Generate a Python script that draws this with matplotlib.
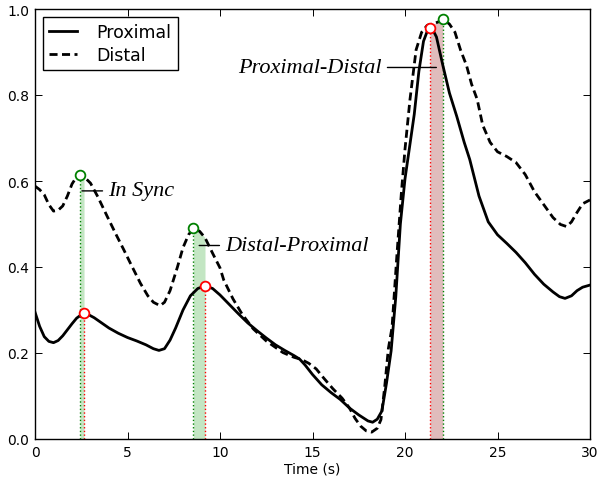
import matplotlib
matplotlib.use("Agg")
import matplotlib.pyplot as plt
import numpy as np

# ---- data ----
prox_t = [0.0, 0.25, 0.5, 0.75, 1.0, 1.25, 1.5, 1.75, 2.0, 2.25, 2.5, 2.65, 2.9, 3.2, 3.6,
          4.0, 4.5, 5.0, 5.5, 6.0, 6.4, 6.7, 7.0, 7.3, 7.6, 8.0, 8.4, 8.8, 9.19, 9.6,
          10.0, 10.5, 11.0, 11.5, 12.0, 12.5, 13.0, 13.5, 14.0, 14.3, 14.6, 15.0, 15.5,
          16.0, 16.5, 17.0, 17.5, 18.0, 18.25, 18.5, 18.75, 19.0, 19.25, 19.5, 19.75,
          20.0, 20.25, 20.5, 20.75, 21.0, 21.2, 21.35, 21.5, 21.7, 22.04, 22.4, 22.8, 23.2,
          23.5, 24.0, 24.5, 25.0, 25.5, 26.0, 26.5, 27.0, 27.5, 28.0, 28.35, 28.65,
          29.0, 29.3, 29.6, 30.0]
prox_v = [0.295, 0.262, 0.238, 0.227, 0.224, 0.229, 0.240, 0.254, 0.268, 0.281, 0.289, 0.292,
          0.289, 0.282, 0.270, 0.258, 0.246, 0.236, 0.228, 0.219, 0.210, 0.206, 0.210, 0.230,
          0.258, 0.300, 0.333, 0.350, 0.356, 0.350, 0.335, 0.313, 0.291, 0.270, 0.252, 0.235,
          0.219, 0.206, 0.194, 0.186, 0.172, 0.150, 0.126, 0.108, 0.092, 0.072, 0.056, 0.042,
          0.039, 0.046, 0.065, 0.130, 0.205, 0.330, 0.500, 0.605, 0.680, 0.755, 0.855, 0.925,
          0.948, 0.956, 0.952, 0.935, 0.870, 0.805, 0.750, 0.690, 0.650, 0.565, 0.505, 0.475,
          0.455, 0.434, 0.410, 0.383, 0.360, 0.342, 0.331, 0.327, 0.333, 0.345, 0.353, 0.358]

dist_t = [0.0, 0.25, 0.5, 0.75, 1.0, 1.25, 1.5, 1.75, 2.0, 2.25, 2.43, 2.65, 3.0, 3.4, 3.9,
          4.4, 4.8, 5.2, 5.7, 6.1, 6.4, 6.76, 7.0, 7.3, 7.7, 8.0, 8.3, 8.56, 8.9, 9.19, 9.6,
          10.0, 10.2, 10.7, 11.2, 11.8, 12.5, 13.0, 13.4, 14.0, 14.4, 14.8, 15.2, 15.6, 16.1,
          16.6, 17.0, 17.3, 17.6, 17.9, 18.2, 18.5, 18.7, 18.9, 19.1, 19.3, 19.55, 19.8, 20.0,
          20.27, 20.6, 20.9, 21.2, 21.35, 21.5, 21.8, 22.04, 22.4, 22.7, 23.0, 23.33, 23.6,
          23.9, 24.2, 24.6, 25.0, 25.5, 26.0, 26.5, 27.0, 27.5, 28.0, 28.4, 28.74, 29.0, 29.3,
          29.6, 30.0]
dist_v = [0.588, 0.580, 0.568, 0.545, 0.530, 0.532, 0.542, 0.565, 0.593, 0.610, 0.615, 0.610,
          0.595, 0.563, 0.518, 0.474, 0.440, 0.405, 0.362, 0.333, 0.318, 0.310, 0.318, 0.345,
          0.400, 0.445, 0.475, 0.490, 0.483, 0.468, 0.432, 0.398, 0.370, 0.326, 0.290, 0.256,
          0.228, 0.213, 0.201, 0.190, 0.185, 0.176, 0.163, 0.142, 0.117, 0.095, 0.072, 0.048,
          0.030, 0.019, 0.016, 0.025, 0.045, 0.120, 0.210, 0.260, 0.420, 0.570, 0.674, 0.790,
          0.905, 0.946, 0.962, 0.964, 0.965, 0.970, 0.977, 0.965, 0.946, 0.905, 0.868, 0.825,
          0.790, 0.730, 0.690, 0.668, 0.657, 0.643, 0.615, 0.575, 0.545, 0.515, 0.499, 0.494,
          0.505, 0.527, 0.547, 0.556]

# events: (label, distal peak time, proximal peak time)
event_labels = ["In Sync", "Distal-Proximal", "Proximal-Distal"]
distal_peak_t = [2.43, 8.56, 22.04]
prox_peak_t = [2.65, 9.19, 21.35]
event_colors = ["#c3e6c3", "#c3e6c3", "#e0bcbc"]
label_pos = [(3.95, 0.577, "left"), (10.27, 0.45, "left"), (18.75, 0.864, "right")]

x_ticks = [0, 5, 10, 15, 20, 25, 30]
y_ticks = [0.0, 0.2, 0.4, 0.6, 0.8, 1.0]

# ---- plot ----
prox_t = np.array(prox_t); prox_v = np.array(prox_v)
dist_t = np.array(dist_t); dist_v = np.array(dist_v)

fig = plt.figure(figsize=(5.98, 4.85), dpi=100)
ax = fig.add_axes([35/598, 1-440/485, 555/598, 430/485])

for lab, td, tp, col, (lx, ly, ha) in zip(event_labels, distal_peak_t, prox_peak_t,
                                         event_colors, label_pos):
    a, b = min(td, tp), max(td, tp)
    m = (dist_t >= a) & (dist_t <= b)
    ax.fill_between(dist_t[m], 0, dist_v[m], color=col, lw=0, zorder=1)
    yd = dist_v[np.argmin(abs(dist_t - td))]
    yp = prox_v[np.argmin(abs(prox_t - tp))]
    ax.plot([td, td], [0, yd], ls=":", color="green", lw=1.0, zorder=2)
    ax.plot([tp, tp], [0, yp], ls=":", color="red", lw=1.0, zorder=2)
    ax.annotate(lab, xy=((a + b) / 2, ly), xytext=(lx, ly), ha=ha, va="center",
                fontsize=16, family="Liberation Serif", style="italic",
                arrowprops=dict(arrowstyle="-", color="k", lw=1.0, shrinkA=2, shrinkB=0),
                zorder=5)

ax.plot(prox_t, prox_v, color="k", lw=2, label="Proximal", zorder=3)
ax.plot(dist_t, dist_v, color="k", lw=2, ls=(0, (2.9, 1.6)), label="Distal", zorder=3)

for td, tp in zip(distal_peak_t, prox_peak_t):
    yd = dist_v[np.argmin(abs(dist_t - td))]
    yp = prox_v[np.argmin(abs(prox_t - tp))]
    ax.plot([td], [yd], "o", mfc="white", mec="green", ms=7, mew=1.3, zorder=4)
    ax.plot([tp], [yp], "o", mfc="white", mec="red", ms=7, mew=1.3, zorder=4)

ax.set_xlim(0, 30)
ax.set_ylim(0, 1.0)
ax.set_xticks(x_ticks)
ax.set_yticks(y_ticks)
ax.set_yticklabels([f"{v:.1f}" for v in y_ticks])
ax.tick_params(direction="in", length=5, width=0.7, top=True, right=True, labelsize=10, pad=4)
for s in ax.spines.values():
    s.set_linewidth(1.0)
ax.set_xlabel("Time (s)", fontsize=10, labelpad=2)

leg = ax.legend(loc="upper left", fontsize=12.5, handlelength=1.6, handletextpad=1.15,
                fancybox=False, framealpha=1, edgecolor="k", borderaxespad=0.45,
                borderpad=0.35, labelspacing=0.28)
leg.get_frame().set_linewidth(1.0)

fig.savefig("out.png", dpi=100)
